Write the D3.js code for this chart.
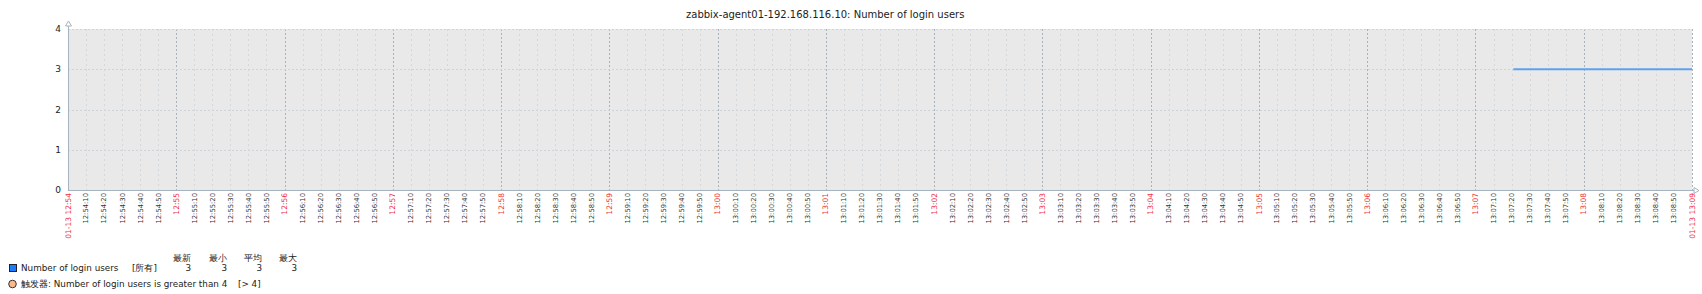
<!DOCTYPE html>
<meta charset="utf-8">
<title>Number of login users</title>
<style>
  body { margin: 0; background: #fff; }
  text { font-family: "DejaVu Sans", sans-serif; }
</style>
<body>
<script src="https://d3js.org/d3.v7.min.js"></script>
<script>

let title = "zabbix-agent01-192.168.116.10: Number of login users";
let timeStart = "2024-01-13T12:54:00";
let timeEnd = "2024-01-13T13:09:00";
let seriesTimes = ["2024-01-13T13:07:21", "2024-01-13T13:09:00"];
let seriesValues = [3, 3];
let yTicks = [0, 1, 2, 3, 4];
let legendHeaders = ["最新", "最小", "平均", "最大"];
let legendStats = [3, 3, 3, 3];
let itemName = "Number of login users";
let itemFunc = "[所有]";
let triggerName = "触发器: Number of login users is greater than 4";
let triggerExpr = "[> 4]";

let W = 1702, H = 294;
let margin = { top: 29, left: 68, right: 10, bottom: 104 };
let width = W - margin.left - margin.right;
let height = H - margin.top - margin.bottom;

let parse = d3.timeParse("%Y-%m-%dT%H:%M:%S");
let t0 = parse(timeStart), t1 = parse(timeEnd);

let x = d3.scaleTime().domain([t0, t1]).range([0, width]);
let y = d3.scaleLinear().domain([0, 4]).range([height, 0]);

let svg = d3.select('body').append('svg')
    .attr('width', W)
    .attr('height', H);

svg.append('text')
    .attr('x', 686)
    .attr('y', 18)
    .style('font-size', '10px')
    .attr('fill', '#222')
    .text(title);

let g = svg.append('g')
    .attr('transform', `translate(${margin.left},${margin.top})`);

g.append('rect')
    .attr('width', width)
    .attr('height', height)
    .attr('fill', '#e9e9e9');

// vertical grid
let ticks = d3.timeSecond.every(10).range(t0, d3.timeSecond.offset(t1, 1));
let isMinute = d => d.getSeconds() === 0;

g.selectAll('.vgrid')
    .data(ticks.slice(1))
    .enter().append('line')
        .attr('class', 'vgrid')
        .attr('x1', d => Math.round(x(d)) + 0.5)
        .attr('x2', d => Math.round(x(d)) + 0.5)
        .attr('y1', 0)
        .attr('y2', height)
        .attr('stroke', d => isMinute(d) ? '#aab2ba' : '#d3d8dc')
        .attr('stroke-dasharray', d => isMinute(d) ? '2,2' : '2,3');

// horizontal grid
g.selectAll('.hgrid')
    .data(yTicks.slice(1))
    .enter().append('line')
        .attr('class', 'hgrid')
        .attr('x1', 0)
        .attr('x2', width)
        .attr('y1', d => Math.round(y(d)) + 0.5)
        .attr('y2', d => Math.round(y(d)) + 0.5)
        .attr('stroke', '#cdd3d8')
        .attr('stroke-dasharray', '2,2');

// y labels
g.selectAll('.ylab')
    .data(yTicks)
    .enter().append('text')
        .attr('x', -7)
        .attr('y', d => y(d))
        .attr('dy', '0.35em')
        .attr('text-anchor', 'end')
        .style('font-size', '9px')
        .attr('fill', '#222')
        .text(d => d);

// data line
let pts = seriesTimes.map((t, i) => [parse(t), seriesValues[i]]);
g.append('path')
    .datum(pts)
    .attr('fill', 'none')
    .attr('stroke', '#5ea2ec')
    .attr('stroke-width', 2)
    .attr('d', d3.line().x(d => x(d[0])).y(d => y(d[1])));

// axes
let axisColor = '#a6b4bf';
g.append('line')
    .attr('x1', 0.5).attr('x2', 0.5)
    .attr('y1', -3).attr('y2', height)
    .attr('stroke', axisColor);
g.append('line')
    .attr('x1', 0).attr('x2', width + 2)
    .attr('y1', height + 0.5).attr('y2', height + 0.5)
    .attr('stroke', axisColor);
g.append('path')
    .attr('d', `M-2.5,-3 L0.5,-8 L3.5,-3 Z`)
    .attr('fill', '#fff')
    .attr('stroke', axisColor);
g.append('path')
    .attr('d', `M${width + 2},${height - 2.5} L${width + 7},${height + 0.5} L${width + 2},${height + 3.5} Z`)
    .attr('fill', '#fff')
    .attr('stroke', axisColor);

// x labels
let fmtMinor = d3.timeFormat("%H:%M:%S");
let fmtMajor = d3.timeFormat("%H:%M");
let fmtDate = d3.timeFormat("%m-%d %H:%M");

g.selectAll('.xlab')
    .data(ticks)
    .enter().append('text')
        .attr('class', 'xlab')
        .attr('transform', d => `translate(${x(d)},${height + 3})rotate(-90)`)
        .attr('dy', '0.35em')
        .attr('text-anchor', 'end')
        .style('font-size', d => isMinute(d) ? '7.5px' : '6.8px')
        .attr('fill', d => isMinute(d) ? '#f0303a' : '#333')
        .text(d => (+d === +t0 || +d === +t1) ? fmtDate(d) : isMinute(d) ? fmtMajor(d) : fmtMinor(d));

// legend
let leg = svg.append('g').style('font-size', '8.8px');
let colX = [191, 227, 262, 297];

leg.selectAll('.hdr')
    .data(legendHeaders)
    .enter().append('text')
        .attr('x', (d, i) => colX[i])
        .attr('y', 261)
        .attr('text-anchor', 'end')
        .attr('fill', '#222')
        .text(d => d);

leg.append('rect')
    .attr('x', 9.5).attr('y', 264.5)
    .attr('width', 7).attr('height', 7)
    .attr('fill', '#1a7cff')
    .attr('stroke', '#222');
leg.append('text').attr('x', 21).attr('y', 271).attr('fill', '#222').text(itemName);
leg.append('text').attr('x', 132).attr('y', 271).attr('fill', '#222').text(itemFunc);
leg.selectAll('.stat')
    .data(legendStats)
    .enter().append('text')
        .attr('x', (d, i) => colX[i])
        .attr('y', 271)
        .attr('text-anchor', 'end')
        .attr('fill', '#222')
        .text(d => d);

leg.append('circle')
    .attr('cx', 12.5).attr('cy', 284)
    .attr('r', 3.8)
    .attr('fill', '#f9b98d')
    .attr('stroke', '#333');
leg.append('text').attr('x', 21).attr('y', 287).attr('fill', '#222').text(triggerName);
leg.append('text').attr('x', 238).attr('y', 287).attr('fill', '#222').text(triggerExpr);

</script>
</body>
